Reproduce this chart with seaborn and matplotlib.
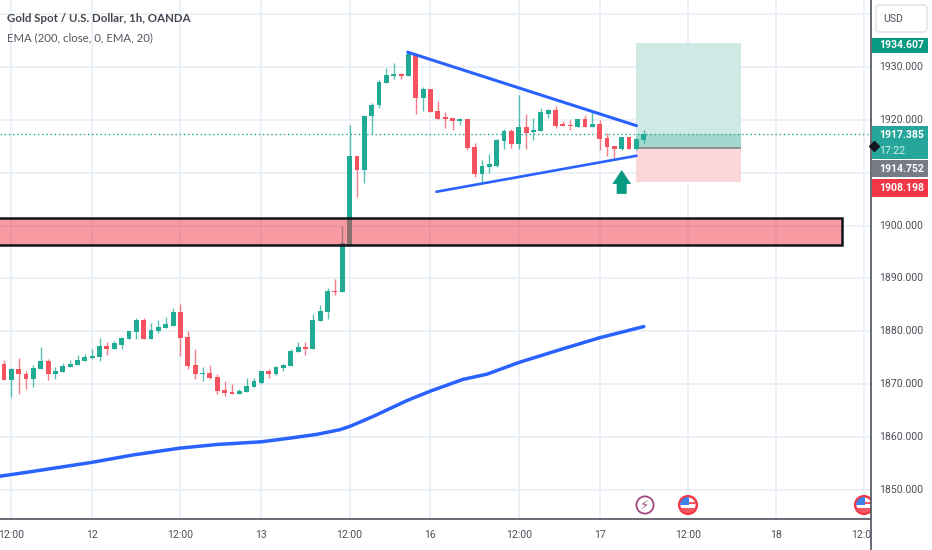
import matplotlib
matplotlib.use("Agg")
import matplotlib.pyplot as plt
from matplotlib.patches import Rectangle, Circle, FancyBboxPatch
import numpy as np
import seaborn as sns

sns.set_theme(style="white")
plt.rcParams['font.family'] = ['Roboto', 'DejaVu Sans']

opens = [1873.9,1870.8,1872.9,1872.0,1871.0,1872.9,1874.4,1871.9,1872.3,1873.3,1873.7,1874.4,1875.0,1875.2,1877.3,1876.7,1877.5,1878.5,1879.9,1882.1,1878.5,1880.1,1880.6,1881.1,1883.6,1879.0,1873.7,1871.9,1872.2,1871.4,1868.9,1868.5,1868.1,1868.5,1869.5,1870.3,1872.5,1871.9,1873.1,1873.5,1876.0,1877.1,1876.7,1881.9,1883.6,1887.6,1887.4,1896.2,1913.2,1910.5,1920.7,1922.8,1927.0,1928.2,1928.6,1928.2,1932.4,1924.2,1925.8,1921.7,1920.4,1920.4,1919.8,1920.2,1914.9,1909.7,1911.1,1911.3,1916.0,1917.9,1915.4,1918.7,1917.7,1917.9,1921.2,1921.9,1919.2,1919.1,1918.7,1920.2,1918.7,1919.3,1916.6,1915.1,1914.5,1916.8,1914.5,1916.2]
highs = [1874.6,1873.0,1875.0,1872.5,1873.7,1877.1,1874.8,1873.3,1874.1,1874.6,1875.5,1875.8,1876.7,1878.8,1878.0,1878.2,1879.0,1880.1,1882.6,1882.6,1881.5,1882.1,1882.8,1884.5,1885.1,1880.1,1876.7,1873.3,1873.7,1872.0,1870.6,1870.1,1869.1,1871.2,1871.2,1872.5,1872.9,1873.5,1873.9,1876.7,1878.0,1878.0,1883.2,1884.9,1888.1,1889.9,1899.9,1919.1,1913.2,1920.9,1923.1,1927.5,1929.9,1930.7,1928.8,1932.8,1932.4,1926.3,1925.8,1923.6,1921.4,1920.4,1920.4,1920.2,1915.6,1912.4,1913.5,1916.4,1918.3,1918.3,1924.7,1921.2,1920.4,1922.3,1922.1,1922.7,1919.8,1920.0,1920.2,1921.0,1921.9,1920.0,1917.6,1915.1,1916.8,1916.8,1916.5,1918.1]
lows = [1870.8,1867.6,1868.1,1869.1,1869.5,1872.9,1870.8,1871.0,1872.3,1873.3,1873.7,1874.4,1874.8,1874.4,1875.6,1876.7,1876.7,1878.5,1878.5,1878.5,1878.5,1879.6,1880.6,1881.1,1875.4,1872.9,1871.0,1870.6,1871.0,1868.1,1867.8,1868.1,1868.1,1868.5,1869.5,1870.1,1871.2,1871.7,1872.5,1873.5,1876.0,1875.6,1876.7,1881.9,1882.3,1886.8,1887.4,1896.2,1905.5,1908.0,1917.3,1922.3,1927.0,1927.7,1927.7,1928.2,1921.2,1921.7,1921.4,1920.2,1918.5,1918.1,1919.1,1914.3,1909.1,1908.0,1909.9,1911.1,1914.5,1914.7,1914.5,1914.5,1916.2,1917.9,1920.4,1918.5,1918.8,1918.1,1918.7,1918.7,1918.7,1914.3,1913.2,1912.4,1914.3,1914.5,1914.3,1915.6]
closes = [1870.8,1872.9,1871.9,1871.0,1873.1,1874.4,1871.9,1872.5,1873.5,1873.9,1874.6,1875.1,1875.4,1877.3,1876.7,1877.7,1878.8,1880.1,1882.1,1878.5,1880.2,1880.9,1881.3,1883.6,1878.8,1873.5,1871.9,1872.2,1871.2,1868.7,1868.3,1868.1,1868.7,1869.7,1870.6,1872.5,1871.9,1873.3,1873.7,1876.3,1877.1,1876.7,1882.1,1883.8,1887.6,1887.4,1896.7,1913.2,1910.5,1920.7,1922.9,1927.1,1928.4,1928.6,1928.2,1932.4,1924.2,1925.8,1921.5,1920.2,1920.2,1919.8,1920.2,1914.7,1909.7,1911.3,1911.6,1916.2,1917.9,1915.4,1918.7,1917.6,1918.1,1921.4,1921.9,1918.9,1918.8,1918.8,1920.2,1918.7,1919.3,1916.4,1914.9,1914.5,1916.8,1914.5,1916.4,1917.385]

ema_bars = [-1,3.9,11.9,17.5,23.9,29,35,38.9,42.5,45.7,47,50.2,54.8,58,62.4,65.7,70,75.2,80.9,87]
ema_vals = [1852.5,1853.5,1855.2,1856.6,1857.9,1858.6,1859.1,1859.8,1860.5,1861.4,1862.0,1863.9,1866.9,1868.7,1870.9,1871.9,1874.1,1876.35,1878.75,1880.9]

upper_bars = [54.9,86.0]
upper_vals = [1932.8,1918.9]
lower_bars = [58.8,86.0]
lower_vals = [1906.4,1913.2]

zone_low, zone_high = 1896.4, 1901.35
zone_bars = (-2, 114)
trade_bars = (86, 100.2)
target, entry, stop, last = 1934.607, 1914.752, 1908.198, 1917.385
arrow_bar, arrow_tip, arrow_base = 84, 1910.5, 1906.0

tick_bars = [1,12,24,35,47,58,70,81,93,105,117]
tick_labels = ['12:00','12','12:00','13','12:00','16','12:00','17','12:00','18','12:00']
price_ticks = [1850,1860,1870,1880,1890,1900,1920,1930]
grid_prices = [1850,1860,1870,1880,1890,1900,1910,1920,1930,1940]

GREEN, RED, BLUE = '#22ab94', '#f7525f', '#2962ff'
GRID, TEXT, AXIS = '#e9f0f6', '#4c4f58', '#50535e'
FS = 7.6
W, H = 932, 550

fig = plt.figure(figsize=(W/100, H/100), dpi=100, facecolor='white')
ax = fig.add_axes([0, 31/H, 871/W, 519/H], zorder=1)
ax.set_xlim(-0.54, 117.9)
ax.set_ylim(1844.5, 1942.67)
ax.set_facecolor('white')
ax.set_xticks(tick_bars, tick_labels)
ax.set_yticks(grid_prices)
ax.tick_params(axis='x', length=0, pad=8, labelsize=FS, labelcolor=TEXT)
ax.tick_params(axis='y', length=0, labelleft=False)
ax.grid(True, color=GRID, lw=1.3)
ax.set_axisbelow(True)
for s in ('top','left','right'):
    ax.spines[s].set_visible(False)
ax.spines['bottom'].set_color(AXIS)
ax.spines['bottom'].set_linewidth(1.2)

# trade box
ax.fill_between(trade_bars, entry, target, color='#cfeae5', lw=0, zorder=1)
ax.fill_between(trade_bars, stop, entry, color='#fcd7da', lw=0, zorder=1)
ax.fill_between(trade_bars, entry, last, color='#a3d8ce', lw=0, zorder=1.1)
ax.hlines(entry, *trade_bars, color='#80868f', lw=1.2, zorder=1.2)

# candles
bars = np.arange(len(opens))
o, h, l, c = map(np.array, (opens, highs, lows, closes))
colors = [GREEN if cc >= oo else RED for oo, cc in zip(o, c)]
ax.vlines(bars, l, h, colors=colors, lw=1.0, alpha=0.75, zorder=2)
ax.bar(bars, np.maximum(np.abs(c-o), 0.25), bottom=np.minimum(o, c), width=0.66,
       color=colors, lw=0, zorder=3)

ax.axhline(last, color=GREEN, ls=(0, (1, 2)), lw=1, zorder=2.5)

# support / resistance zone
ax.add_patch(Rectangle((zone_bars[0], zone_low), zone_bars[1]-zone_bars[0], zone_high-zone_low,
                       facecolor=(242/255, 54/255, 69/255, 0.5), edgecolor='#10131c', lw=1.8, zorder=4))

sns.lineplot(x=ema_bars, y=ema_vals, ax=ax, color=BLUE, lw=2.5, legend=False, estimator=None, sort=False, zorder=5)
sns.lineplot(x=upper_bars, y=upper_vals, ax=ax, color=BLUE, lw=2.2, legend=False, estimator=None, sort=False, zorder=5)
sns.lineplot(x=lower_bars, y=lower_vals, ax=ax, color=BLUE, lw=1.9, legend=False, estimator=None, sort=False, zorder=5)

ax.annotate('', xy=(arrow_bar, arrow_tip), xytext=(arrow_bar, arrow_base),
            arrowprops=dict(width=7.2, headwidth=13.5, headlength=10, color='#089981', lw=0, shrink=0), zorder=6)

# overlay in pixels: header and event icons
ov = fig.add_axes([0, 31/H, 871/W, 519/H], zorder=2, facecolor='none')
ov.set_xlim(0, 871); ov.set_ylim(519, 0); ov.axis('off')
ov.text(7, 19, 'Gold Spot / U.S. Dollar, 1h, OANDA', family='Lato', fontweight='bold', fontsize=8.3,
        color='#43464e', va='center', ha='left')
ov.text(7, 37.5, 'EMA (200, close, 0, EMA, 20)', family='Lato', fontsize=8.2,
        color='#555861', va='center', ha='left')

ov.add_patch(Circle((645, 505), 8.6, fc='white', ec='#a4477f', lw=1.3))
ov.text(645, 505, '\u26a1', family='DejaVu Sans', fontsize=9.5, fontweight='bold', color='#a4477f', ha='center', va='center')

def flag(cx, cy=505):
    clip = Circle((cx, cy), 8, transform=ov.transData)
    ov.add_patch(Circle((cx, cy), 8.8, fc='white', ec='#f23645', lw=1.8))
    for y0, hh, col, x0, ww in [(cy-9, 8.5, '#3f7fe8', cx-9, 10), (cy-3, 2, '#f25560', cx+1, 9),
                                (cy+3, 6, '#f25560', cx-9, 18)]:
        r = Rectangle((x0, y0), ww, hh, fc=col, lw=0)
        ov.add_patch(r)
        r.set_clip_path(clip)
flag(688)
flag(864)

# price scale
pa = fig.add_axes([871/W, 0, 61/W, 1], zorder=3, facecolor='white')
pa.set_xlim(871, 932)
pa.set_ylim(1838.65, 1942.67)
pa.set_xticks([]); pa.set_yticks([])
for s in ('top','right','bottom'):
    pa.spines[s].set_visible(False)
pa.spines['left'].set_color(AXIS)
pa.spines['left'].set_linewidth(1.2)
TX = 879
for p in price_ticks:
    pa.text(TX, p, f'{p}.000', fontsize=FS, color=TEXT, va='center', ha='left')

def tag(p_lo, p_hi, col):
    pa.add_patch(Rectangle((871.5, p_lo), 56.5, p_hi-p_lo, fc=col, lw=0, zorder=4))

def price_to(y):
    return 1850 + (490-y)/5.2875

def label(y, s, col='white', fw='bold'):
    pa.text(TX, price_to(y), s, fontsize=FS, fontweight=fw, color=col, va='center', ha='left', zorder=5)

tag(price_to(53), price_to(38), '#089981')
label(45, f'{target:.3f}')
tag(price_to(159), price_to(126), '#26a69a')
label(135, f'{last:.3f}')
label(151, '17:22', '#d5f0ec', 'normal')
tag(price_to(177), price_to(160), '#787b86')
label(169, f'{entry:.3f}')
tag(price_to(197), price_to(179), '#f23645')
label(188, f'{stop:.3f}')
pa.plot([873.5], [price_to(146.5)], marker='D', ms=5.5, color='#131722', clip_on=False, zorder=6)

pa.add_patch(FancyBboxPatch((876, price_to(32)), 51, price_to(5)-price_to(32),
                            boxstyle='round,pad=0,rounding_size=3', mutation_aspect=0.2,
                            fc='white', ec='#e0e3eb', lw=1.1))
pa.text(883, price_to(19), 'USD', fontsize=FS, color=TEXT, va='center', ha='left')

fig.savefig('out.png', dpi=100)
